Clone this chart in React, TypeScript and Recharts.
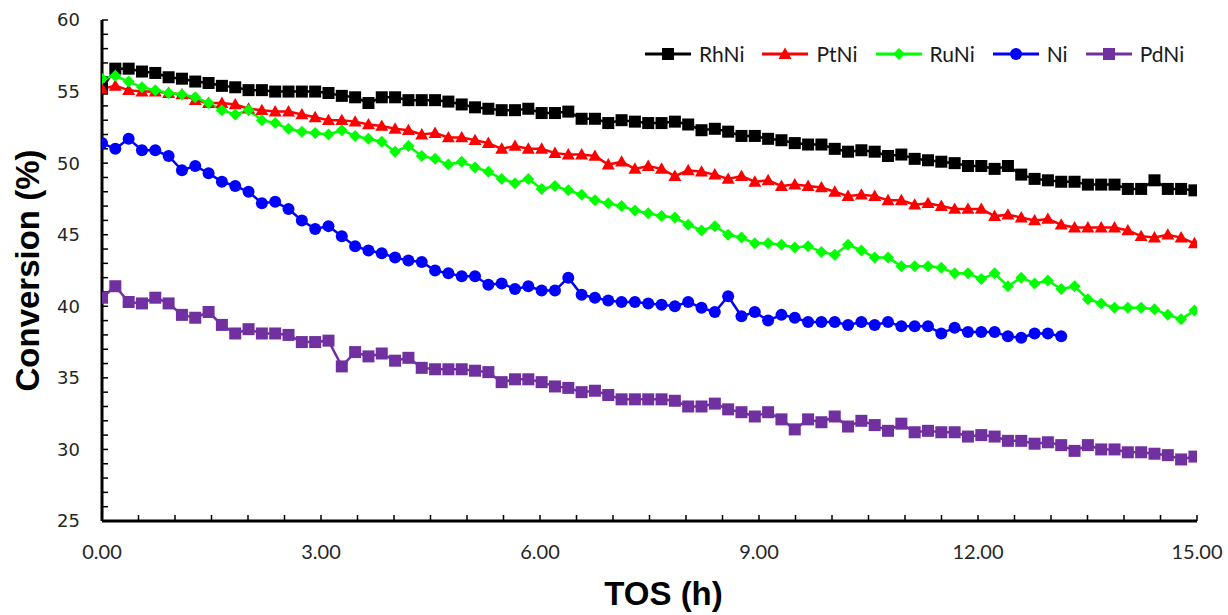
import React from "react"
import { LineChart, Line, XAxis, YAxis, Legend } from "recharts"

// conversion (%) per sample; one sample every ~11 min
const RHNI = [
  55.2, 56.6, 56.6, 56.4, 56.3, 56.0, 55.9, 55.7, 55.6, 55.4, 55.3, 55.1, 55.1, 55.0, 55.0, 55.0, 55.0, 54.9, 54.7, 54.6,
  54.2, 54.6, 54.6, 54.4, 54.4, 54.4, 54.3, 54.1, 53.9, 53.8, 53.7, 53.7, 53.8, 53.5, 53.5, 53.6, 53.1, 53.1, 52.8, 53.0,
  52.9, 52.8, 52.8, 52.9, 52.7, 52.3, 52.4, 52.2, 51.9, 51.9, 51.7, 51.6, 51.4, 51.3, 51.3, 51.0, 50.8, 50.9, 50.8, 50.5,
  50.6, 50.3, 50.2, 50.1, 50.0, 49.8, 49.8, 49.6, 49.8, 49.2, 48.9, 48.8, 48.7, 48.7, 48.5, 48.5, 48.5, 48.2, 48.2, 48.8,
  48.2, 48.2, 48.1,
]
const PTNI = [
  55.2, 55.4, 55.1, 55.0, 55.0, 54.9, 54.8, 54.4, 54.2, 54.2, 54.1, 53.8, 53.7, 53.6, 53.6, 53.4, 53.2, 53.0, 53.0, 52.9,
  52.7, 52.6, 52.4, 52.3, 52.0, 52.1, 51.8, 51.8, 51.6, 51.4, 51.0, 51.2, 51.0, 51.0, 50.7, 50.6, 50.6, 50.5, 49.9, 50.1,
  49.6, 49.8, 49.6, 49.1, 49.5, 49.4, 49.2, 48.9, 49.1, 48.7, 48.8, 48.4, 48.5, 48.4, 48.3, 48.0, 47.7, 47.8, 47.7, 47.4,
  47.4, 47.1, 47.2, 47.0, 46.8, 46.8, 46.8, 46.3, 46.4, 46.2, 46.0, 46.1, 45.7, 45.5, 45.5, 45.5, 45.5, 45.3, 44.9, 44.8,
  45.0, 44.8, 44.4,
]
const RUNI = [
  55.9, 56.1, 55.7, 55.3, 55.1, 54.9, 54.8, 54.6, 54.2, 53.7, 53.4, 53.7, 53.0, 52.8, 52.4, 52.2, 52.1, 52.0, 52.3, 51.9,
  51.7, 51.5, 50.8, 51.2, 50.5, 50.3, 49.9, 50.1, 49.7, 49.4, 48.9, 48.6, 48.9, 48.2, 48.4, 48.1, 47.8, 47.4, 47.2, 47.0,
  46.7, 46.5, 46.3, 46.2, 45.7, 45.3, 45.6, 45.0, 44.8, 44.4, 44.4, 44.3, 44.1, 44.2, 43.8, 43.6, 44.3, 43.9, 43.4, 43.4,
  42.8, 42.8, 42.8, 42.7, 42.3, 42.3, 41.9, 42.3, 41.4, 42.0, 41.6, 41.8, 41.2, 41.4, 40.5, 40.2, 39.9, 39.9, 39.9, 39.8,
  39.4, 39.1, 39.7,
]
const NI = [
  51.4, 51.0, 51.7, 50.9, 50.9, 50.5, 49.5, 49.8, 49.3, 48.7, 48.4, 48.0, 47.2, 47.3, 46.8, 46.0, 45.4, 45.6, 44.9, 44.2,
  43.9, 43.7, 43.4, 43.2, 43.1, 42.5, 42.3, 42.1, 42.1, 41.5, 41.6, 41.2, 41.4, 41.1, 41.1, 42.0, 40.8, 40.6, 40.4, 40.3,
  40.3, 40.2, 40.1, 40.0, 40.3, 39.9, 39.6, 40.7, 39.3, 39.6, 39.0, 39.4, 39.2, 38.9, 38.9, 38.9, 38.7, 38.9, 38.7, 38.9,
  38.6, 38.6, 38.6, 38.1, 38.5, 38.2, 38.2, 38.2, 37.9, 37.8, 38.1, 38.1, 37.9,
]
const PDNI = [
  40.6, 41.4, 40.3, 40.2, 40.6, 40.2, 39.4, 39.2, 39.6, 38.7, 38.1, 38.4, 38.1, 38.1, 38.0, 37.5, 37.5, 37.6, 35.8, 36.8,
  36.5, 36.7, 36.2, 36.4, 35.7, 35.6, 35.6, 35.6, 35.5, 35.4, 34.7, 34.9, 34.9, 34.7, 34.4, 34.3, 34.0, 34.1, 33.8, 33.5,
  33.5, 33.5, 33.5, 33.4, 33.0, 33.0, 33.2, 32.8, 32.6, 32.3, 32.6, 32.1, 31.4, 32.1, 31.9, 32.3, 31.6, 32.0, 31.7, 31.3,
  31.8, 31.2, 31.3, 31.2, 31.2, 30.9, 31.0, 30.9, 30.6, 30.6, 30.4, 30.5, 30.3, 29.9, 30.3, 30.0, 30.0, 29.8, 29.8, 29.7,
  29.6, 29.3, 29.5,
]

const SAMPLE_STEP_H = 0.1825

const X_LABELS = [0, 3, 6, 9, 12, 15]
const X_TICKS = Array.from({ length: 31 }, (_, i) => i * 0.5)
const Y_LABELS = [25, 30, 35, 40, 45, 50, 55, 60]
const Y_TICKS = Array.from({ length: 36 }, (_, i) => 25 + i)

type Shape = "square" | "triangle" | "diamond" | "circle"

const SERIES: { key: string; values: number[]; color: string; shape: Shape; size: number }[] = [
  { key: "RhNi", values: RHNI, color: "#000000", shape: "square", size: 12 },
  { key: "PtNi", values: PTNI, color: "#ff0000", shape: "triangle", size: 13 },
  { key: "RuNi", values: RUNI, color: "#00ff00", shape: "diamond", size: 12 },
  { key: "Ni", values: NI, color: "#0000ff", shape: "circle", size: 12 },
  { key: "PdNi", values: PDNI, color: "#7030a0", shape: "square", size: 12 },
]

const rows = RHNI.map((_, i) => {
  const row: Record<string, number | undefined> = { tos: i * SAMPLE_STEP_H }
  SERIES.forEach((s) => {
    row[s.key] = s.values[i]
  })
  return row
})

const TICK_FONT = "'DejaVu Sans', Verdana, sans-serif"
const LABEL_FONT = "Lato, 'Liberation Sans', Arial, sans-serif"
const TITLE_FONT = "'Liberation Sans', Arial, sans-serif"

function Marker({ cx, cy, shape, color, size }: { cx?: number; cy?: number; shape: Shape; color: string; size: number }) {
  if (cx == null || cy == null || isNaN(cx) || isNaN(cy)) return <g />
  const h = size / 2
  if (shape === "square") return <rect x={cx - h} y={cy - h} width={size} height={size} fill={color} />
  if (shape === "triangle")
    return <polygon points={`${cx},${cy - h} ${cx + h},${cy + h * 0.75} ${cx - h},${cy + h * 0.75}`} fill={color} />
  if (shape === "diamond")
    return <polygon points={`${cx},${cy - h} ${cx + h},${cy} ${cx},${cy + h} ${cx - h},${cy}`} fill={color} />
  return <circle cx={cx} cy={cy} r={h} fill={color} />
}

const renderLegend = () => (
  <div style={{ display: "flex", alignItems: "center", fontFamily: LABEL_FONT, fontSize: 21, color: "#1a1a1a" }}>
    {SERIES.map((s) => (
      <div key={s.key} style={{ display: "flex", alignItems: "center", marginRight: 18 }}>
        <svg width={46} height={14}>
          <line x1={0} y1={7} x2={46} y2={7} stroke={s.color} strokeWidth={3} />
          <Marker cx={23} cy={7} shape={s.shape} color={s.color} size={s.size} />
        </svg>
        <span style={{ marginLeft: 8 }}>{s.key}</span>
      </div>
    ))}
  </div>
)

export default function App() {
  return (
    <div style={{ position: "absolute", left: 0, top: 0, background: "#fff" }}>
      <LineChart width={1228} height={615} data={rows} margin={{ top: 20, right: 31, left: 0, bottom: 0 }}>
        <XAxis
          type="number"
          dataKey="tos"
          domain={[0, 15]}
          ticks={X_TICKS}
          interval={0}
          allowDataOverflow
          tickFormatter={(v: number) => (X_LABELS.includes(v) ? v.toFixed(2) : "")}
          height={94}
          tickSize={-6}
          tickMargin={30}
          axisLine={{ stroke: "#000", strokeWidth: 3 }}
          tickLine={{ stroke: "#000", strokeWidth: 1.5 }}
          tick={{ fill: "#262626", fontSize: 20, fontFamily: LABEL_FONT }}
          label={{
            content: (p: any) => (
              <text
                x={p.viewBox.x + p.viewBox.width / 2 + 14}
                y={605}
                textAnchor="middle"
                fontFamily={TITLE_FONT}
                fontWeight="bold"
                fontSize={33}
                fill="#000"
              >
                TOS (h)
              </text>
            ),
          }}
        />
        <YAxis
          type="number"
          domain={[25, 60]}
          ticks={Y_TICKS}
          interval={0}
          allowDataOverflow
          tickFormatter={(v: number) => (Y_LABELS.includes(v) ? String(v) : "")}
          width={102}
          tickSize={-6}
          tickMargin={28}
          axisLine={{ stroke: "#000", strokeWidth: 3 }}
          tickLine={{ stroke: "#000", strokeWidth: 1.5 }}
          tick={{ fill: "#262626", fontSize: 18, fontFamily: TICK_FONT }}
          label={{
            content: (p: any) => {
              const cx = 27
              const cy = p.viewBox.y + p.viewBox.height / 2
              return (
                <text
                  x={cx}
                  y={cy}
                  transform={`rotate(-90 ${cx} ${cy})`}
                  textAnchor="middle"
                  dominantBaseline="central"
                  fontFamily={TITLE_FONT}
                  fontWeight="bold"
                  fontSize={33}
                  fill="#000"
                >
                  Conversion (%)
                </text>
              )
            },
          }}
        />
        <Legend
          content={renderLegend}
          layout="horizontal"
          verticalAlign="middle"
          align="center"
          wrapperStyle={{ top: 41, left: 645, width: "auto" }}
        />
        {SERIES.map((s) => (
          <Line
            key={s.key}
            dataKey={s.key}
            stroke={s.color}
            strokeWidth={2.5}
            isAnimationActive={false}
            legendType="none"
            activeDot={false}
            dot={(p: any) => (
              <Marker key={`${s.key}-${p.index}`} cx={p.cx} cy={p.cy} shape={s.shape} color={s.color} size={s.size} />
            )}
          />
        ))}
      </LineChart>
    </div>
  )
}
